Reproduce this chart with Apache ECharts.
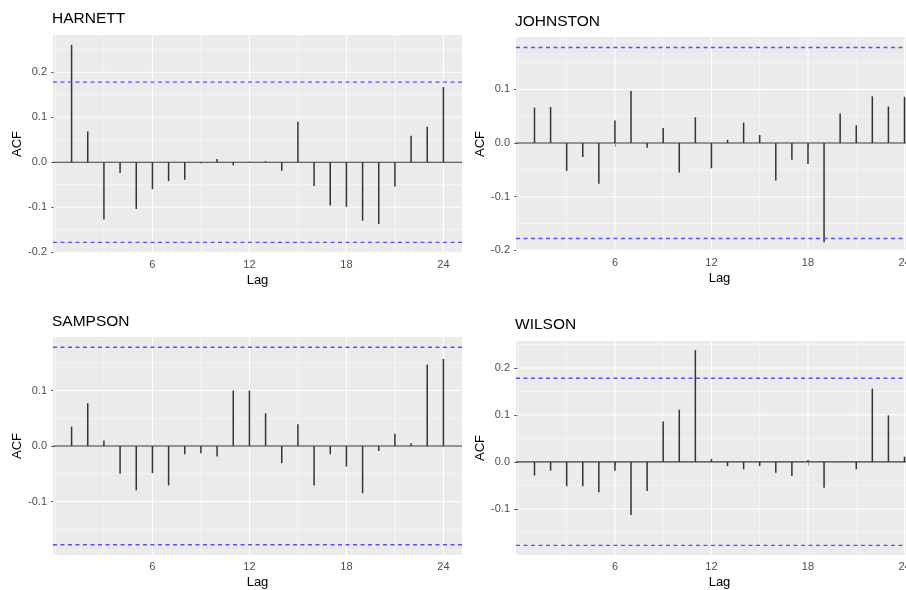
<!DOCTYPE html>
<html>
<head>
<meta charset="utf-8">
<script src="https://cdn.jsdelivr.net/npm/echarts@6/dist/echarts.min.js"></script>
<style>
html,body{margin:0;padding:0;background:#fff;}
#chart{width:906px;height:590px;}
</style>
</head>
<body>
<div id="chart"></div>
<script>
// ---- data ----
const lags = [1,2,3,4,5,6,7,8,9,10,11,12,13,14,15,16,17,18,19,20,21,22,23,24];
const panelNames = ['HARNETT','JOHNSTON','SAMPSON','WILSON'];
const harnett  = [0.261,0.068,-0.127,-0.024,-0.104,-0.060,-0.042,-0.039,-0.002,0.007,-0.007,0.001,0.002,-0.019,0.090,-0.053,-0.096,-0.099,-0.130,-0.137,-0.054,0.059,0.079,0.167];
const johnston = [0.066,0.067,-0.052,-0.026,-0.076,0.042,0.097,-0.009,0.028,-0.055,0.048,-0.047,0.006,0.038,0.015,-0.070,-0.031,-0.039,-0.185,0.055,0.033,0.087,0.068,0.086];
const sampson  = [0.035,0.077,0.010,-0.050,-0.080,-0.049,-0.071,-0.015,-0.013,-0.019,0.100,0.100,0.059,-0.031,0.039,-0.071,-0.015,-0.037,-0.085,-0.009,0.022,0.005,0.147,0.157];
const wilson   = [-0.029,-0.019,-0.052,-0.052,-0.065,-0.019,-0.113,-0.062,0.086,0.111,0.238,0.006,-0.009,-0.016,-0.009,-0.023,-0.030,0.004,-0.055,-0.001,-0.016,0.156,0.099,0.011];
const ciBound = 0.178;
const xMajorTicks = [6,12,18,24];
const xMinorTicks = [0,3,9,15,21];
const yMajorTicks = [[-0.2,-0.1,0,0.1,0.2],[-0.2,-0.1,0,0.1],[-0.1,0,0.1],[-0.1,0,0.1,0.2]];
const yMinorTicks = [[-0.15,-0.05,0.05,0.15,0.25],[-0.15,-0.05,0.05,0.15],[-0.15,-0.05,0.05,0.15],[-0.15,-0.05,0.05,0.15,0.25]];
const yRanges = [[-0.2017,0.2827],[-0.2012,0.1975],[-0.1965,0.1965],[-0.1985,0.2575]];
const xRange = [-0.15,25.15];

// ---- layout ----
const seriesValues = [harnett, johnston, sampson, wilson];
const grids = [
  {left:53, top:35, width:409, height:218},
  {left:516, top:37, width:407, height:214},
  {left:53, top:337, width:409, height:218},
  {left:516, top:341, width:407, height:214}
];
const titlePos = [
  {left:52, top:11},
  {left:515, top:14},
  {left:52, top:314},
  {left:515, top:317}
];
const FONT = '"Liberation Sans", Arial, sans-serif';

const option = {
  animation:false,
  backgroundColor:'#fff',
  title: panelNames.map((n,i)=>({
    text:n, left:titlePos[i].left, top:titlePos[i].top, padding:0,
    textStyle:{fontSize:15.5, fontWeight:'normal', color:'#000', fontFamily:FONT}
  })),
  grid: grids.map(g=>Object.assign({show:true, backgroundColor:'#EBEBEB', borderWidth:0, containLabel:false, outerBoundsMode:'none'}, g)),
  xAxis: grids.map((g,i)=>({
    type:'value', gridIndex:i, min:xRange[0], max:xRange[1],
    name:'Lag', nameLocation:'middle', nameGap:21,
    nameTextStyle:{fontSize:13, color:'#000', fontFamily:FONT},
    axisLine:{show:false},
    axisTick:{show:true, length:4, lineStyle:{color:'#333', width:1}, customValues:xMajorTicks},
    axisLabel:{show:true, margin:6, fontSize:11, color:'#4D4D4D', fontFamily:FONT, customValues:xMajorTicks,
      formatter:v=>String(v)},
    splitLine:{show:false}
  })),
  yAxis: grids.map((g,i)=>({
    type:'value', gridIndex:i, min:yRanges[i][0], max:yRanges[i][1],
    name:'ACF', nameLocation:'middle', nameGap:26,
    nameTextStyle:{fontSize:13, color:'#000', fontFamily:FONT},
    axisLine:{show:false},
    axisTick:{show:true, length:4, lineStyle:{color:'#333', width:1}, customValues:yMajorTicks[i]},
    axisLabel:{show:true, margin:6, fontSize:11, color:'#4D4D4D', fontFamily:FONT, customValues:yMajorTicks[i],
      formatter:v=>(Math.abs(v)<1e-9?0:v).toFixed(1)},
    splitLine:{show:false}
  })),
  series: []
};

function hLine(i, y, color, width, type, z){
  return {type:'line', xAxisIndex:i, yAxisIndex:i, z:z, silent:true, symbol:'none', showSymbol:false,
    data:[[xRange[0], y],[xRange[1], y]], lineStyle:{color:color, width:width, type:type},
    emphasis:{disabled:true}, tooltip:{show:false}};
}
function vLine(i, x, color, width, z){
  return {type:'line', xAxisIndex:i, yAxisIndex:i, z:z, silent:true, symbol:'none', showSymbol:false,
    data:[[x, yRanges[i][0]],[x, yRanges[i][1]]], lineStyle:{color:color, width:width, type:'solid'},
    emphasis:{disabled:true}, tooltip:{show:false}};
}

grids.forEach((g,i)=>{
  // background grid lines (minor then major)
  yMinorTicks[i].filter(v=>v>yRanges[i][0]&&v<yRanges[i][1]).forEach(v=>option.series.push(hLine(i, v, '#FFFFFF', 0.5, 'solid', 1)));
  xMinorTicks.forEach(v=>option.series.push(vLine(i, v, '#FFFFFF', 0.5, 1)));
  yMajorTicks[i].forEach(v=>option.series.push(hLine(i, v, '#FFFFFF', 1.1, 'solid', 1)));
  xMajorTicks.forEach(v=>option.series.push(vLine(i, v, '#FFFFFF', 1.1, 1)));
  // zero line
  option.series.push(hLine(i, 0, '#333333', 1.2, 'solid', 2));
  // stems
  option.series.push({
    type:'custom', xAxisIndex:i, yAxisIndex:i, z:3, silent:true,
    data: lags.map((l,k)=>[l, seriesValues[i][k]]),
    encode:{x:0, y:1},
    renderItem:(params, api)=>{
      const p0 = api.coord([api.value(0), 0]);
      const p1 = api.coord([api.value(0), api.value(1)]);
      return {type:'line', shape:{x1:p0[0], y1:p0[1], x2:p1[0], y2:p1[1]},
        style:{stroke:'#333333', lineWidth:1.5}};
    }
  });
  // confidence bounds
  option.series.push(hLine(i, ciBound, '#5050FF', 1.4, [4,3.5], 4));
  option.series.push(hLine(i, -ciBound, '#5050FF', 1.4, [4,3.5], 4));
});

const chart = echarts.init(document.getElementById('chart'), null, {renderer:'canvas'});
chart.setOption(option);
</script>
</body>
</html>
